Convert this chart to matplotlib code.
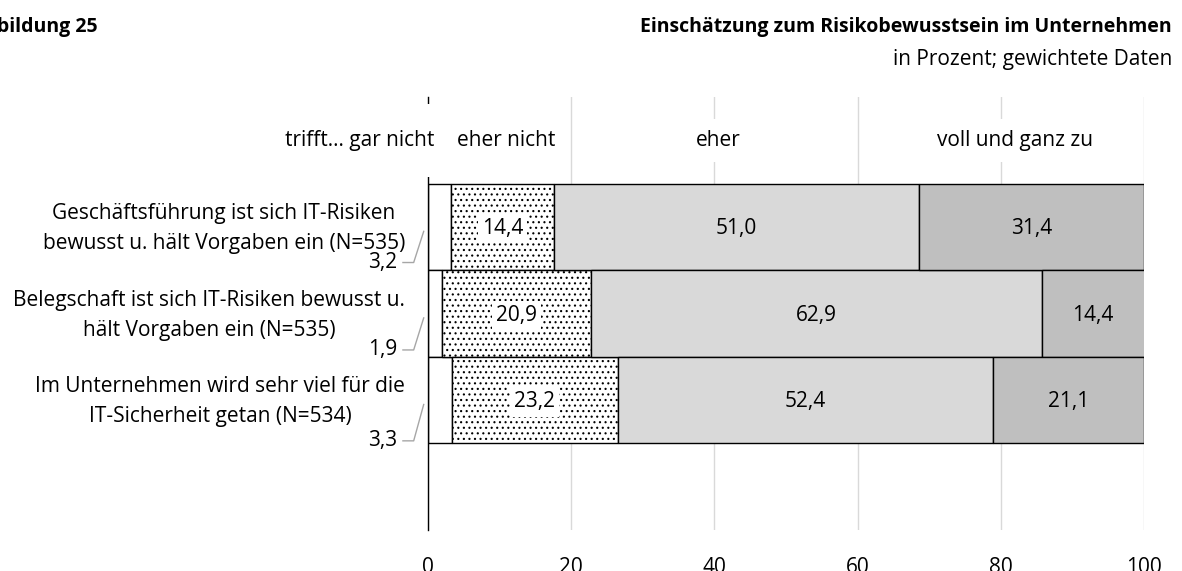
"""
stacked bar chart: Einschätzung zum Risikobewusstsein im Unternehmen
"""
import matplotlib.pyplot as plt

plt.rcParams['font.family'] = ['Open Sans', 'DejaVu Sans']
plt.rcParams['hatch.linewidth'] = 0.8

# data
categories = [
    'Geschäftsführung ist sich IT-Risiken\nbewusst u. hält Vorgaben ein (N=535)',
    'Belegschaft ist sich IT-Risiken bewusst u.\nhält Vorgaben ein (N=535)',
    'Im Unternehmen wird sehr viel für die\nIT-Sicherheit getan (N=534)',
]
answer_labels = ['trifft... gar nicht', 'eher nicht', 'eher', 'voll und ganz zu']
gar_nicht = [3.2, 1.9, 3.3]
eher_nicht = [14.4, 20.9, 23.2]
eher = [51.0, 62.9, 52.4]
voll = [31.4, 14.4, 21.1]
x_ticks = [0, 20, 40, 60, 80, 100]


def fmt(value):
    """german decimal comma"""
    return f'{value:.1f}'.replace('.', ',')


def plot_maker():
    fig = plt.figure(figsize=(11.82, 5.71), dpi=100)
    ax = fig.add_axes([0.3621, 0.0718, 0.6058, 0.758])

    rows = [1, 2, 3]
    series = [gar_nicht, eher_nicht, eher, voll]
    colors = ['white', 'white', '#d9d9d9', '#bfbfbf']
    hatches = [None, '...', None, None]

    left = [0, 0, 0]
    for values, color, hatch, pos in zip(series, colors, hatches, range(4)):
        ax.barh(rows, values, left=left, height=1.0, color=color,
                edgecolor='black', linewidth=1, hatch=hatch, zorder=2)
        if pos > 0:
            for row, value, start in zip(rows, values, left):
                box = dict(facecolor='white', edgecolor='none', pad=3) if hatch else None
                ax.text(start + value / 2, row + 0.02, fmt(value), ha='center',
                        va='center', fontsize=15, bbox=box, zorder=4)
        left = [a + b for a, b in zip(left, values)]

    # small first segment: labels outside with leader lines
    label_offsets = [0.41, 0.42, 0.47]
    for row, value, off in zip(rows, gar_nicht, label_offsets):
        ax.text(-4.3, row + off, fmt(value), ha='right', va='center', fontsize=15)
        ax.plot([-3.5, -2.0, -0.6], [row + off, row + off, row + 0.05],
                color='#a6a6a6', linewidth=1, clip_on=False, zorder=3)

    # column headers in the top row
    header_x = [-9.6, 10.9, 40.5, 82.0]
    header_pad = [19, 8, 8, 8]
    for xpos, label, pad in zip(header_x, answer_labels, header_pad):
        ax.text(xpos, 0, label, ha='center', va='center', fontsize=15,
                bbox=dict(facecolor='white', edgecolor='none', pad=pad), zorder=4)

    # category labels
    for row, label in zip(rows, categories):
        ax.text(-3.2, row + 0.02, label, ha='right', va='center', fontsize=15,
                multialignment='center', linespacing=1.55)

    ax.set_xlim(0, 100)
    ax.set_ylim(4.5, -0.5)
    ax.set_yticks([])
    ax.set_xticks(x_ticks)
    ax.tick_params(axis='x', length=0, pad=19.5, labelsize=15)
    ax.xaxis.grid(True, color='#d9d9d9', linewidth=1)
    ax.set_axisbelow(True)
    for side in ['top', 'right', 'bottom']:
        ax.spines[side].set_visible(False)
    ax.spines['left'].set_color('black')
    ax.spines['left'].set_linewidth(1)

    fig.text(0.083, 0.953, 'Abbildung 25', ha='right', va='center',
             fontsize=14, fontweight='bold')
    fig.text(0.9915, 0.953, 'Einschätzung zum Risikobewusstsein im Unternehmen',
             ha='right', va='center', fontsize=14, fontweight='bold')
    fig.text(0.9915, 0.895, 'in Prozent; gewichtete Daten', ha='right', va='center',
             fontsize=15)

    fig.savefig('out.png', dpi=100)


if __name__ == '__main__':
    plot_maker()
